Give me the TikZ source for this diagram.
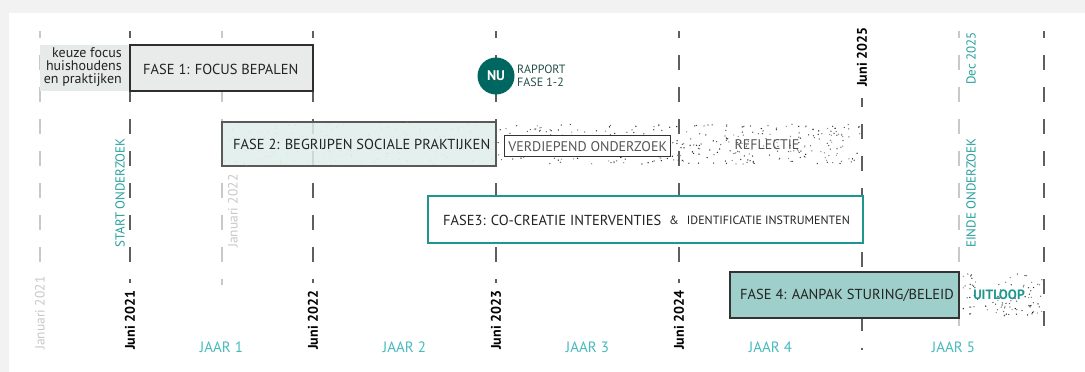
\documentclass[tikz,border=0pt]{standalone}
\usepackage{fontspec}
\setmainfont{PT Sans}

\definecolor{jaarteal}{RGB}{72,186,190}
\definecolor{labelteal}{RGB}{40,160,158}
\definecolor{nuteal}{RGB}{0,102,96}
\definecolor{rapportcol}{RGB}{38,78,74}
\definecolor{drieborder}{RGB}{30,150,142}
\definecolor{vierfill}{RGB}{158,207,202}
\definecolor{tweefill}{RGB}{223,238,235}
\definecolor{eenfill}{RGB}{232,235,234}
\definecolor{keuzefill}{RGB}{230,234,232}
\definecolor{gridcol}{RGB}{95,95,95}
\definecolor{gridlight}{RGB}{200,200,200}
\definecolor{fasetext}{RGB}{35,35,35}
\definecolor{sidetext}{RGB}{85,85,85}

\begin{document}
\begin{tikzpicture}[x=1pt, y=-1pt,
    grid/.style={line width=1.5pt, color=gridcol, dash pattern=on 15pt off 17pt, dash phase=8pt},
    gridfaint/.style={grid, line width=1.1pt, color=gridlight},
    fasetxt/.style={font=\fontsize{14.5}{17}\selectfont, text=fasetext, inner sep=0, anchor=west},
    juni/.style={font=\fontsize{14}{16}\selectfont\bfseries, rotate=90, anchor=west, inner sep=0},
    jaar/.style={font=\fontsize{15}{17}\selectfont, text=jaarteal, inner sep=0},
    vert/.style={font=\fontsize{13}{15}\selectfont, rotate=90, anchor=west, inner sep=0}]

\useasboundingbox (0,0) rectangle (1085,372);
\fill[color=black!5] (0,0) rectangle (1085,372);
\fill[white] (9,13) rectangle (1085,372);

% grid lines
\foreach \x/\yb in {130/283, 313/283, 496/283, 679/283, 1044/342}
    \draw[grid] (\x,31) -- (\x,\yb);
\draw[grid, dash phase=6pt] (862,98) -- (862,350);
\foreach \x/\yb in {40/268, 222/285, 959/338}
    \draw[gridfaint] (\x,31) -- (\x,\yb);

% stippled parts
\begin{scope}
    \pgfmathsetseed{17}
    \foreach \i in {1,...,340}{
        \pgfmathsetmacro{\px}{498+362*rnd}
        \pgfmathsetmacro{\py}{124+40*rnd}
        \pgfmathtruncatemacro{\pg}{40+55*rnd}
        \fill[color=black!\pg] (\px,\py) circle [radius=0.7pt];
    }
    \foreach \i in {1,...,90}{
        \pgfmathsetmacro{\px}{961+81*rnd}
        \pgfmathsetmacro{\py}{274+42*rnd}
        \pgfmathtruncatemacro{\pg}{40+55*rnd}
        \fill[color=black!\pg] (\px,\py) circle [radius=0.7pt];
    }
\end{scope}

% fase 1
\fill[color=keuzefill] (40,45) rectangle (130,91);
\node (keuze) [anchor=east, align=right, inner sep=0, font=\fontsize{14}{13}\selectfont, text=fasetext] at (122,67) {keuze focus\\huishoudens\\en praktijken};
\draw[line width=2.4pt, color=black!82, fill=eenfill] (130,45) rectangle (313,91);
\node (fase1) [fasetxt] at (143,69) {FASE 1: FOCUS BEPALEN};

% nu
\node (nu) [circle, fill=nuteal, minimum size=37pt, inner sep=0, text=white, font=\fontsize{14}{15}\selectfont\bfseries] at (496,76) {NU};
\node (rapport) [anchor=west, align=left, inner sep=0, font=\fontsize{12}{13}\selectfont, text=rapportcol] at (517,76) {RAPPORT\\FASE 1-2};

% fase 2
\begin{scope}
    \draw[line width=1.5pt, color=black!65, fill=tweefill, fill opacity=.85] (222,122) rectangle (496,166);
    \pgfmathsetseed{5}
    \foreach \i in {1,...,160}
        \fill[color=black!15] (223+272*rnd,123+42*rnd) circle [radius=0.5pt];
\end{scope}
\node (fase2) [fasetxt] at (233,144) {FASE 2: BEGRIJPEN SOCIALE PRAKTIJKEN};
\node (verdiepend) [draw=black!80, line width=1.4pt, fill=white, anchor=north west, minimum width=166pt, minimum height=21pt, inner sep=0, font=\fontsize{14}{16}\selectfont, text=sidetext] at (504,135) {VERDIEPEND ONDERZOEK};
\node (reflectie) [font=\fontsize{14}{16}\selectfont, text=sidetext, inner sep=1pt] at (767,145) {REFLECTIE};

% fase 3
\draw[line width=2.4pt, color=drieborder, fill=white] (428,196) rectangle (863,243);
\node (fase3) [fasetxt] at (443,220) {FASE3: CO-CREATIE INTERVENTIES};
\node (fase3b) [fasetxt, font=\fontsize{12}{14}\selectfont] at (669,220) {\&\hspace{8pt}IDENTIFICATIE INSTRUMENTEN};

% fase 4
\draw[line width=2pt, color=black!80, fill=vierfill] (730,272) rectangle (959,318);
\node (fase4) [fasetxt] at (740,295) {FASE 4: AANPAK STURING/BELEID};
\node (uitloop) [inner sep=1pt, font=\fontsize{13.5}{16}\selectfont\bfseries, text=drieborder] at (999,295) {UITLOOP};

% dates
\node (jan21) [vert, text=gridlight, font=\fontsize{13.5}{15}\selectfont] at (40,350) {Januari 2021};
\node (jun21) [juni] at (130,350) {Juni 2021};
\node (start) [vert, text=labelteal] at (120,248) {START ONDERZOEK};
\node (jan22) [vert, text=gridlight, font=\fontsize{13.5}{15}\selectfont] at (233,248) {Januari 2022};
\node (jun22) [juni] at (313,350) {Juni 2022};
\node (jun23) [juni] at (496,350) {Juni 2023};
\node (jun24) [juni] at (679,350) {Juni 2024};
\node (jun25) [juni] at (862,87) {Juni 2025};
\node (dec25) [vert, text=labelteal] at (971,85) {Dec 2025};
\node (einde) [vert, text=labelteal] at (971,248) {EINDE ONDERZOEK};

% jaren
\foreach \x/\n in {221.5/1, 404.5/2, 587.5/3, 770.5/4, 953.5/5}
    \node (jaar\n) [jaar] at (\x,347) {JAAR \n};

\end{tikzpicture}
\end{document}
